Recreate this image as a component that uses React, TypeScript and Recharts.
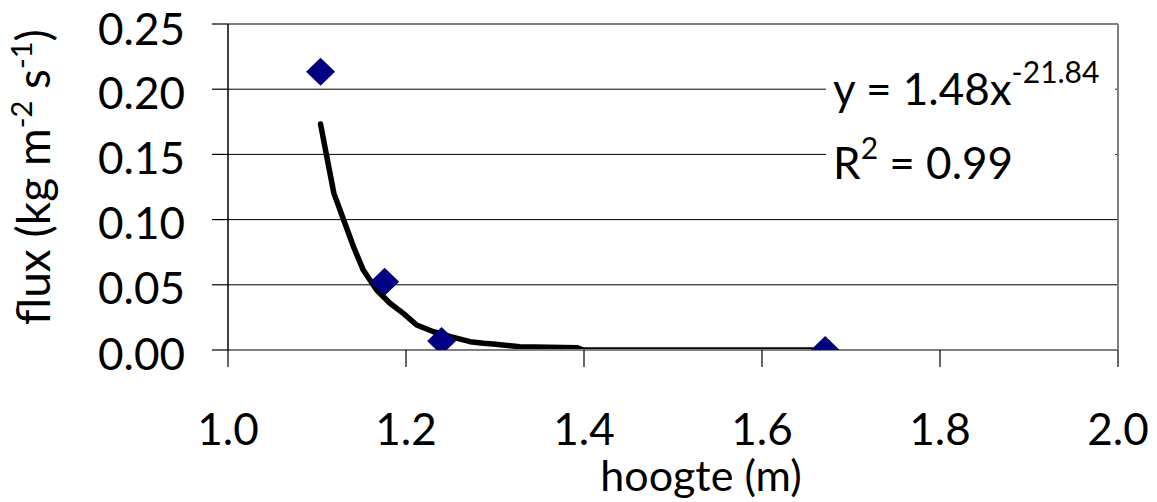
import React from "react";
import {
  ComposedChart,
  Scatter,
  Line,
  XAxis,
  YAxis,
  CartesianGrid,
  ReferenceLine,
  ReferenceArea,
  Label,
} from "recharts";

// measured points (hoogte in m, flux in kg m-2 s-1)
const measuredX = [1.104, 1.176, 1.24, 1.671];
const measuredY = [0.2134, 0.0524, 0.0069, 0.0];

// power-law trend line
const fitX = [1.104, 1.111, 1.119, 1.13, 1.141, 1.152, 1.167, 1.182, 1.197, 1.212, 1.231, 1.25, 1.272, 1.287, 1.298, 1.328, 1.392, 1.399, 1.672];
const fitY = [0.1733, 0.1483, 0.1201, 0.0997, 0.0792, 0.0613, 0.046, 0.0358, 0.0281, 0.0192, 0.014, 0.0102, 0.0064, 0.0051, 0.0046, 0.0025, 0.0018, 0.0, 0.0];

const xTicks = [1.0, 1.2, 1.4, 1.6, 1.8, 2.0];
const yTicks = [0.0, 0.05, 0.1, 0.15, 0.2, 0.25];

const measured = measuredX.map((x, i) => ({ x, y: measuredY[i] }));
const fit = fitX.map((x, i) => ({ x, y: fitY[i] }));

const FONT = "Lato, 'Open Sans', sans-serif";

function Diamond(props: any) {
  const { cx, cy } = props;
  const w = 14.5;
  const h = 14;
  return (
    <polygon
      points={`${cx},${cy - h} ${cx + w},${cy} ${cx},${cy + h} ${cx - w},${cy}`}
      fill="#000080"
    />
  );
}

function YTitle() {
  return (
    <text
      x={50}
      y={177}
      transform="rotate(-90, 50, 177)"
      textAnchor="middle"
      fontFamily={FONT}
      fontSize={46}
      fill="#000"
    >
      flux (kg m
      <tspan fontSize={29} dy={-18}>-2</tspan>
      <tspan dy={18}> s</tspan>
      <tspan fontSize={29} dy={-18}>-1</tspan>
      <tspan dy={18}>)</tspan>
    </text>
  );
}

function XTitle() {
  return (
    <text x={701} y={491} textAnchor="middle" fontFamily={FONT} fontSize={43} fill="#000">
      hoogte (m)
    </text>
  );
}

function Equation(props: any) {
  const vb = props.viewBox || { x: 826, y: 37 };
  const x = vb.x + 7;
  const y = vb.y;
  return (
    <g fontFamily={FONT} fill="#000">
      <text x={x} y={y + 68} fontSize={44}>
        y = 1.48x
        <tspan fontSize={30} dy={-22}>-21.84</tspan>
      </text>
      <text x={x} y={y + 142} fontSize={44}>
        R<tspan fontSize={30} dy={-20}>2</tspan>
        <tspan dy={20}> = 0.99</tspan>
      </text>
    </g>
  );
}

export default function App() {
  return (
    <div style={{ position: "absolute", left: 0, top: 0, background: "#fff" }}>
      <ComposedChart
        width={1157}
        height={502}
        margin={{ top: 24, right: 39, left: 0, bottom: 0 }}
      >
        <CartesianGrid vertical={false} stroke="#000" strokeWidth={1} />
        <XAxis
          type="number"
          dataKey="x"
          domain={[1, 2]}
          ticks={xTicks}
          allowDataOverflow
          tickFormatter={(v) => Number(v).toFixed(1)}
          height={152}
          tickSize={17}
          tickMargin={47}
          axisLine={{ stroke: "#808080", strokeWidth: 2 }}
          tickLine={{ stroke: "#000", strokeWidth: 1.2 }}
          tick={{ fontFamily: FONT, fontSize: 44, fill: "#000" }}
        >
          <Label content={<XTitle />} />
        </XAxis>
        <YAxis
          type="number"
          dataKey="y"
          domain={[0, 0.25]}
          ticks={yTicks}
          allowDataOverflow
          tickFormatter={(v) => Number(v).toFixed(2)}
          width={228}
          tickSize={16}
          tickMargin={27}
          axisLine={{ stroke: "#000", strokeWidth: 1.5 }}
          tickLine={{ stroke: "#000", strokeWidth: 1.2 }}
          tick={{ fontFamily: FONT, fontSize: 44, fill: "#000", dy: 4 }}
        >
          <Label content={<YTitle />} />
        </YAxis>
        <ReferenceLine y={0.25} stroke="#808080" strokeWidth={2} />
        <ReferenceLine x={2} stroke="#808080" strokeWidth={2} />
        <ReferenceArea
          x1={1.672}
          x2={1.997}
          y1={0.12}
          y2={0.24}
          fill="#fff"
          fillOpacity={1}
          stroke="none"
          label={<Equation />}
        />
        <Scatter data={measured} dataKey="y" shape={<Diamond />} isAnimationActive={false} />
        <Line
          data={fit}
          dataKey="y"
          type="linear"
          stroke="#000"
          strokeWidth={5.5}
          strokeLinecap="round"
          strokeLinejoin="round"
          dot={false}
          activeDot={false}
          isAnimationActive={false}
        />
      </ComposedChart>
    </div>
  );
}
